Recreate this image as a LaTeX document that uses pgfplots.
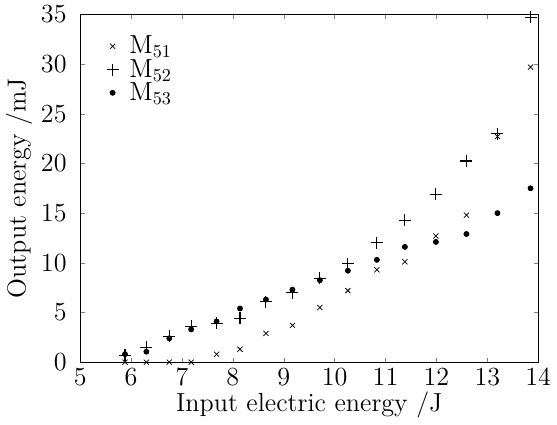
\documentclass[border=0pt]{standalone}
\usepackage{pgfplots}
\pgfplotsset{compat=1.18}
\begin{document}
\begin{tikzpicture}
\begin{axis}[
  scale only axis,
  width=252.5pt, height=191.7pt,
  xmin=5, xmax=14, ymin=0, ymax=35,
  xtick={5,6,...,14}, ytick={0,5,...,35},
  tick align=inside,
  major tick length=2.5pt,
  tick label style={font=\Large},
  label style={font=\Large},
  xticklabel style={yshift=0pt},
  yticklabel style={xshift=-4pt},
  xlabel={Input electric energy /J},
  ylabel={Output energy /mJ},
  xlabel style={yshift=3pt},
  ylabel style={yshift=-2pt},
  legend style={draw=none, fill=none, at={(0.045,0.96)}, anchor=north west, row sep=-2.5pt, font=\Large,
    /tikz/every odd column/.append style={column sep=4pt}},
  legend cell align=left,
]
\addplot[only marks, mark=x, mark size=2pt, thin] coordinates {
(5.88,0) (6.3,0) (6.75,0) (7.18,0) (7.68,0.8) (8.14,1.3) (8.65,2.9) (9.17,3.7)
(9.71,5.5) (10.26,7.2) (10.83,9.3) (11.38,10.1) (11.99,12.7) (12.59,14.8) (13.2,22.7) (13.85,29.7)};
\addlegendentry{M$_{51}$}
\addplot[only marks, mark=+, mark size=3.3pt, semithick] coordinates {
(5.88,0.7) (6.3,1.5) (6.75,2.6) (7.18,3.6) (7.68,3.9) (8.14,4.4) (8.65,6.1) (9.17,7.0)
(9.71,8.45) (10.26,9.9) (10.83,12.0) (11.38,14.3) (11.99,16.9) (12.59,20.25) (13.2,23.0) (13.85,34.7)};
\addlegendentry{M$_{52}$}
\addplot[only marks, mark=*, mark size=1.4pt] coordinates {
(5.88,0.8) (6.3,1.05) (6.75,2.4) (7.18,3.3) (7.68,4.1) (8.14,5.4) (8.65,6.3) (9.17,7.3)
(9.71,8.25) (10.26,9.2) (10.83,10.3) (11.38,11.6) (11.99,12.1) (12.59,12.9) (13.2,15.0) (13.85,17.5)};
\addlegendentry{M$_{53}$}
\end{axis}
\end{tikzpicture}
\end{document}
